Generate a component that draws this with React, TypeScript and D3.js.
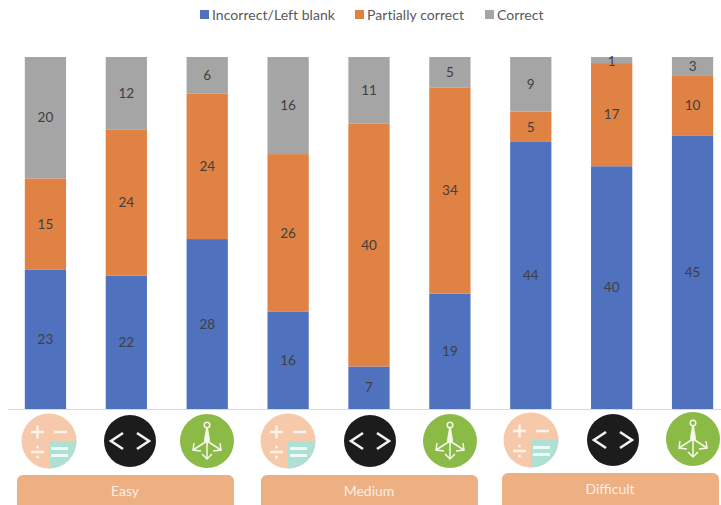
import React from "react";
import * as d3 from "d3";

const questions = ["q1", "q2", "q3", "q4", "q5", "q6", "q7", "q8", "q9"];
const incorrect = [23, 22, 28, 16, 7, 19, 44, 40, 45];
const partial = [15, 24, 24, 26, 40, 34, 5, 17, 10];
const correct = [20, 12, 6, 16, 11, 5, 9, 1, 3];
const seriesNames = ["Incorrect/Left blank", "Partially correct", "Correct"];
const seriesColors = ["#4f71be", "#df8244", "#a5a5a5"];
const iconKinds = ["math", "code", "tree", "math", "code", "tree", "math", "code", "tree"];
const iconCentres = [49, 130, 207, 288, 370, 450, 531, 613, 693];
const iconRows = [441, 441, 441, 441, 441, 441, 440, 440, 439];
const levels = ["Easy", "Medium", "Difficult"];
const levelStarts = [17, 261, 502];
const levelTops = [475, 475, 473];

const WIDTH = 721;
const HEIGHT = 505;
const FONT = "Lato, 'Open Sans', sans-serif";

const rows = questions.map((q, i) => ({ q, a: incorrect[i], b: partial[i], c: correct[i] }));
const stacked = d3.stack<any>().keys(["a", "b", "c"]).offset(d3.stackOffsetExpand)(rows);

const x = d3.scaleBand<string>().domain(questions).range([5, 733]).paddingInner(0.49).paddingOuter(0.245);
const y = d3.scaleLinear().domain([0, 1]).range([409, 57]);

function MathIcon({ cx, cy }: { cx: number; cy: number }) {
  const r = 27.5;
  const quarter = d3.arc()({ innerRadius: 0, outerRadius: r, startAngle: Math.PI / 2, endAngle: Math.PI }) as string;
  return (
    <g transform={`translate(${cx},${cy})`}>
      <circle r={r} fill="#f6c9ab" />
      <path d={quarter} fill="#aee0d4" />
      <g stroke="#fdf1e8" strokeWidth={2.6}>
        <path d="M-18,-9H-5M-11.5,-15.5V-2.5" />
        <path d="M5,-9H18" />
        <path d="M-18,11H-5" />
        <path d="M2,7.5H19M2,14.5H19" strokeWidth={3.2} stroke="#eefaf6" />
      </g>
      <circle cx={-11.5} cy={6} r={1.5} fill="#fdf1e8" />
      <circle cx={-11.5} cy={16} r={1.5} fill="#fdf1e8" />
    </g>
  );
}

function CodeIcon({ cx, cy }: { cx: number; cy: number }) {
  return (
    <g transform={`translate(${cx},${cy})`}>
      <circle r={26} fill="#1d1d1d" />
      <path d="M-7,-8L-19,0L-7,8M7,-8L19,0L7,8" fill="none" stroke="#f4f4f4" strokeWidth={2.6} />
    </g>
  );
}

function TreeIcon({ cx, cy }: { cx: number; cy: number }) {
  return (
    <g transform={`translate(${cx},${cy})`}>
      <circle r={27} fill="#8cba47" />
      <g fill="none" stroke="#f3f8e8" strokeWidth={1.5}>
        <circle cy={-16} r={2.8} />
        <path d="M0,0V18M0,0L-14,9M0,0L14,9M-5,13L0,18L5,13" />
        <path d="M-13,2L-14,9L-6,10M13,2L14,9L6,10" />
      </g>
      <path d="M-1,-13H1L3,-1A3,3 0 1 1 -3,-1Z" fill="#f3f8e8" />
    </g>
  );
}

const iconFor: Record<string, typeof MathIcon> = { math: MathIcon, code: CodeIcon, tree: TreeIcon };

export default function App() {
  const legendX = [200, 355, 485];
  return (
    <svg
      width={WIDTH}
      height={HEIGHT}
      viewBox={`0 0 ${WIDTH} ${HEIGHT}`}
      style={{ position: "fixed", left: 0, top: 0, background: "#fff", fontFamily: FONT }}
    >
      <defs>
        <filter id="soft" x="-5%" y="-5%" width="110%" height="110%">
          <feGaussianBlur stdDeviation="0.6" />
        </filter>
      </defs>

      {seriesNames.map((name, i) => (
        <g key={name}>
          <rect x={legendX[i]} y={10} width={9} height={9} fill={seriesColors[i]} />
          <text x={legendX[i] + 12} y={19.5} fontSize={14} fill="#595959" letterSpacing={0.05}>
            {name}
          </text>
        </g>
      ))}

      <line x1={8} x2={721} y1={409.5} y2={409.5} stroke="#d9d9d9" strokeWidth={1} />

      {stacked.map((layer, s) =>
        layer.map((d, i) => (
          <g key={`${s}-${i}`}>
            <rect
              x={x(questions[i])}
              width={x.bandwidth()}
              y={y(d[1])}
              height={y(d[0]) - y(d[1])}
              fill={seriesColors[s]}
            />
            <text
              x={(x(questions[i]) as number) + x.bandwidth() / 2}
              y={s === 2 && correct[i] === 1 ? y(d[1]) + 4 : (y(d[0]) + y(d[1])) / 2}
              dy="0.35em"
              textAnchor="middle"
              fontSize={13.5}
              fill="#404040"
            >
              {[incorrect, partial, correct][s][i]}
            </text>
          </g>
        ))
      )}

      <g filter="url(#soft)">
        {iconKinds.map((kind, i) => {
          const Icon = iconFor[kind];
          return <Icon key={i} cx={iconCentres[i]} cy={iconRows[i]} />;
        })}
      </g>

      {levels.map((level, i) => (
        <g key={level}>
          <rect x={levelStarts[i]} y={levelTops[i]} width={217} height={HEIGHT - levelTops[i] + 6} rx={6} fill="#edb083" />
          <text
            x={levelStarts[i] + 108}
            y={levelTops[i] + 16}
            dy="0.35em"
            textAnchor="middle"
            fontSize={14}
            fill="#fbeee3"
          >
            {level}
          </text>
        </g>
      ))}
    </svg>
  );
}
